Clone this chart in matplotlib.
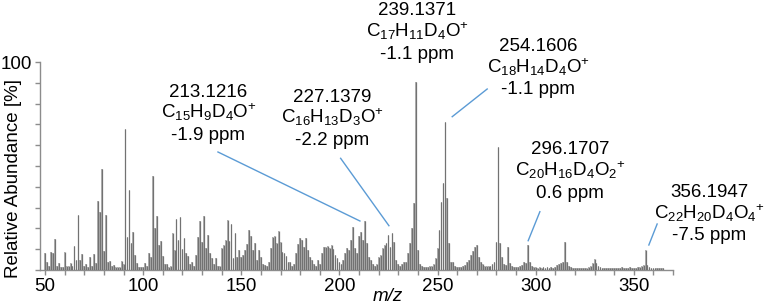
import matplotlib
matplotlib.use("Agg")
import matplotlib.pyplot as plt
import numpy as np

plt.rcParams['font.family'] = ['Liberation Sans', 'DejaVu Sans']
plt.rcParams['mathtext.fontset'] = 'custom'
plt.rcParams['mathtext.rm'] = 'Liberation Sans'
plt.rcParams['mathtext.it'] = 'Liberation Sans:italic'
plt.rcParams['mathtext.bf'] = 'Liberation Sans:bold'

# ---------------- data ----------------
mz_start = 50
intensity = [
    8, 4, 2, 8.5, 8, 14.7, 2, 3.5, 1.5, 1.5,            # 50-59
    8.8, 2, 2, 3.5, 2, 11.5, 5, 26.6, 4.8, 7.5,         # 60-69
    2, 2.7, 1.5, 6.4, 2, 7.5, 3.5, 33, 28, 48.5,        # 70-79
    9.3, 26.6, 4, 4.3, 2, 2.4, 1.5, 1.5, 1.5, 4.3,      # 80-89
    2.9, 67.6, 15.7, 38.3, 12.8, 18.1, 7.2, 3.5, 1.5, 1.5,  # 90-99
    1.5, 3.2, 2, 8, 6.4, 45.2, 20, 25.8, 12, 13.9,      # 100-109
    6.7, 3, 2.9, 1.5, 2, 17.8, 9.6, 24.5, 14.2, 25.3,   # 110-119
    9.9, 15.2, 8, 6.7, 3, 4, 2, 7.2, 15.7, 23.4,        # 120-129
    13.6, 26, 10.4, 16.7, 8, 5.9, 3, 5.6, 2, 2,         # 130-139
    10.7, 11.8, 14.2, 24, 13.9, 22, 5.8, 17.9, 6.1, 9.6,  # 140-149
    6.1, 7.2, 9.6, 12.3, 19.2, 16.3, 9.6, 13.2, 5, 9.6,   # 150-159
    6.4, 3, 2.5, 2, 4, 10.4, 15.7, 16.4, 12.8, 18.6,    # 160-169
    13.6, 8.8, 8, 6.7, 4, 4, 2, 3, 8, 12.3,             # 170-179
    15.2, 14.4, 11.2, 15.5, 9.6, 6.4, 4.8, 3, 2, 4.8,   # 180-189
    3, 8, 11.2, 10.9, 11.5, 10.4, 12, 10.1, 7.2, 5.6,   # 190-199
    4, 3, 5, 8, 10.4, 9.6, 14.4, 20.8, 10.4, 8,         # 200-209
    16.4, 18.4, 14.4, 23.6, 13, 6.4, 4.8, 3, 2, 3,      # 210-219
    6.4, 7, 10.4, 12, 12.8, 16.8, 11, 18, 13.6, 5,      # 220-229
    3, 2, 3, 4, 4, 8, 13, 20, 32.4, 90.5,               # 230-239
    9.6, 3, 2, 1.5, 1.5, 1.5, 2, 2, 3, 5.6,             # 240-249
    10.4, 19.2, 32.9, 41.7, 71.3, 34.5, 12.8, 4, 4, 2,  # 250-259
    1.5, 1.5, 1.6, 2, 2.5, 4, 5, 7, 9, 11.2,            # 260-269
    12, 6.4, 4, 3, 2, 2, 2, 2, 3, 4,                    # 270-279
    13.6, 59, 12.8, 6.4, 3, 2.5, 10.9, 3.2, 2, 1.5,     # 280-289
    1.5, 1.5, 2, 2.5, 4, 3.2, 12, 4, 2, 1.5,            # 290-299
    1.5, 1.2, 1.5, 1.2, 1.5, 1.2, 1.5, 1.2, 1.5, 1.2,   # 300-309
    1.5, 2.4, 3, 3.2, 4, 13.6, 4, 2, 1.5, 1.2,          # 310-319
    1.2, 1, 1.2, 1, 1.2, 1, 1.2, 1.5, 2, 3.2,           # 320-329
    5.1, 3.2, 2, 1.5, 1, 0.8, 1, 0.8, 1, 0.8,           # 330-339
    1, 1.2, 1, 1.2, 1.5, 1.2, 1, 1.2, 1.5, 1.2,         # 340-349
    1, 1.2, 1.5, 1.5, 2, 2.4, 9.6, 2.4, 1.5, 1.2,       # 350-359
    1, 1.2, 1, 0.8, 1, 0.8,                             # 360-365
]
mz = list(range(mz_start, mz_start + len(intensity)))

label_peak_mz = [213, 227, 239, 254, 296, 356]
label_mass = ['213.1216', '227.1379', '239.1371', '254.1606', '296.1707', '356.1947']
label_formula = [r'C$_{15}$H$_{9}$D$_{4}$O$^{+}$',
                 r'C$_{16}$H$_{13}$D$_{3}$O$^{+}$',
                 r'C$_{17}$H$_{11}$D$_{4}$O$^{+}$',
                 r'C$_{18}$H$_{14}$D$_{4}$O$^{+}$',
                 r'C$_{20}$H$_{16}$D$_{4}$O$_{2}{}^{+}$',
                 r'C$_{22}$H$_{20}$D$_{4}$O$_{4}{}^{+}$']
label_ppm = ['-1.9 ppm', '-2.2 ppm', '-1.1 ppm', '-1.1 ppm', '0.6 ppm', '-7.5 ppm']

xtick_values = [50, 100, 150, 200, 250, 300, 350]

# ---------------- layout / styles ----------------
W, H = 765, 307
fig = plt.figure(figsize=(W / 100, H / 100), dpi=100)
ax = fig.add_axes([40 / W, 37 / H, 633 / W, 208 / H])

ax.bar(mz, intensity, width=0.85, color='#b4b4b4', linewidth=0, zorder=2)
ax.vlines(mz, 0, intensity, color='#727272', linewidth=0.9, zorder=3)

ax.set_xlim(47.45, 370)
ax.set_ylim(0, 100)

for s in ('top', 'right'):
    ax.spines[s].set_visible(False)
for s in ('left', 'bottom'):
    ax.spines[s].set_color('#8c8c8c')
    ax.spines[s].set_linewidth(1.0)

ax.set_xticks(np.arange(50, 371, 10))
ax.set_xticklabels([str(v) if v in xtick_values else '' for v in np.arange(50, 371, 10)])
ax.set_yticks(np.arange(0, 101, 10))
ax.set_yticklabels([''] * 10 + ['100'])
ax.tick_params(axis='both', direction='out', length=3.5, width=1.0,
               color='#8c8c8c', labelsize=13.5, labelcolor='black')
ax.tick_params(axis='x', pad=2)
ax.tick_params(axis='y', pad=2)

fig.text(14 / W, 1 - 179 / H, 'Relative Abundance [%]', rotation=90,
         ha='center', va='center', fontsize=13.5)
fig.text(388 / W, 1 - 301 / H, 'm/z', style='italic', ha='center',
         va='baseline', fontsize=13.5)

# annotation text centres (px) and first baselines (px)
text_x = [208.5, 332.5, 417.5, 538, 570, 709]
text_y = [96.7, 101.7, 15, 50.7, 154, 196.7]
line_gap = 21.8


def px2data(px, py):
    return 50 + (px - 45) / 1.963, (270 - py) / 2.08


line_seg = {213: ((218, 152), (360, 221)),
            227: ((340.7, 158.3), (389, 225.7)),
            254: ((487.3, 89), (452.3, 116.7)),
            296: ((540, 211.7), (528.3, 240.7)),
            356: ((657.3, 224), (649, 245))}

for i, pk in enumerate(label_peak_mz):
    for j, t in enumerate([label_mass[i], label_formula[i], label_ppm[i]]):
        fig.text(text_x[i] / W, 1 - (text_y[i] + j * line_gap) / H, t,
                 ha='center', va='baseline', fontsize=13.5)
    if pk in line_seg:
        (x0, y0), (x1, y1) = line_seg[pk]
        d0 = px2data(x0, y0)
        d1 = px2data(x1, y1)
        ax.plot([d0[0], d1[0]], [d0[1], d1[1]], color='#5b9bd5',
                linewidth=1.0, clip_on=False, zorder=4)

fig.savefig('out.png', dpi=100)
